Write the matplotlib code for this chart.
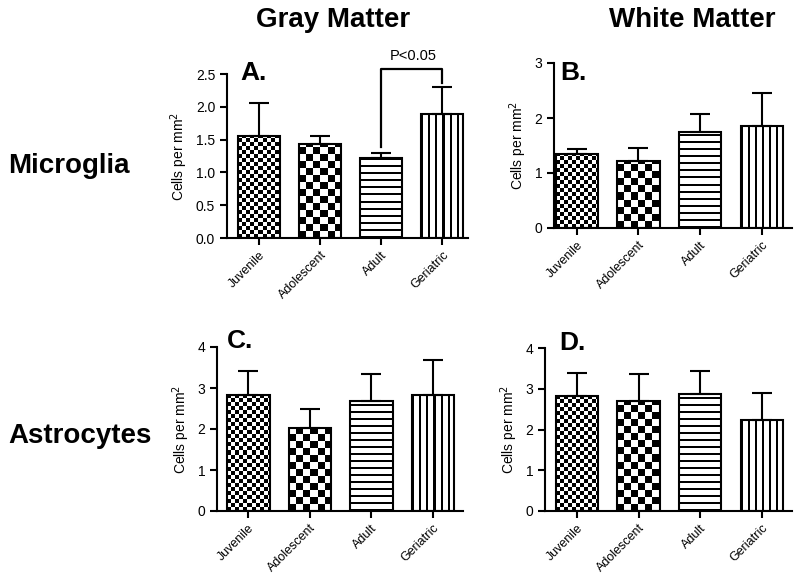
import numpy as np
import matplotlib
matplotlib.use("Agg")
import matplotlib.pyplot as plt

plt.rcParams['font.family'] = ['Liberation Sans', 'DejaVu Sans']

# Data
groups = ['Juvenile', 'Adolescent', 'Adult', 'Geriatric']
gm_microglia = [1.55, 1.43, 1.22, 1.89]
gm_microglia_err = [0.51, 0.12, 0.08, 0.41]
wm_microglia = [1.34, 1.22, 1.75, 1.86]
wm_microglia_err = [0.09, 0.24, 0.33, 0.59]
gm_astro = [2.84, 2.02, 2.68, 2.84]
gm_astro_err = [0.57, 0.46, 0.65, 0.85]
wm_astro = [2.81, 2.71, 2.87, 2.23]
wm_astro_err = [0.58, 0.65, 0.56, 0.67]
patterns = ['fine_check', 'check', 'hlines', 'vlines']

W, H = 800, 576
fig = plt.figure(figsize=(W / 100, H / 100), dpi=100)


def px_axes(left, right, top, bottom):
    return fig.add_axes([left / W, 1 - bottom / H, (right - left) / W, (bottom - top) / H])


def texture(kind, rows, cols):
    i, j = np.mgrid[0:rows, 0:cols]
    if kind == 'fine_check':
        return ((i // 4 + j // 4) % 2).astype(float)
    if kind == 'check':
        return ((i // 7 + j // 7) % 2).astype(float)
    if kind == 'hlines':
        return ((i % 7) >= 2).astype(float)
    return ((j % 7) >= 2).astype(float)


def panel(ax, vals, errs, ylim, yticks, fmt, xlim):
    x = np.arange(len(groups))
    w = 0.69
    ax.set_xlim(*xlim)
    ax.set_ylim(*ylim)
    bars = ax.bar(x, vals, w, color='white', edgecolor='none', zorder=1)
    fig.canvas.draw()
    for b, kind in zip(bars, patterns):
        x0, y0 = b.get_x(), b.get_y()
        x1, y1 = x0 + b.get_width(), y0 + b.get_height()
        p0 = ax.transData.transform((x0, y0))
        p1 = ax.transData.transform((x1, y1))
        cols = max(1, int(round(p1[0] - p0[0])))
        rows = max(1, int(round(p1[1] - p0[1])))
        ax.imshow(texture(kind, rows, cols), cmap='gray', vmin=0, vmax=1,
                  origin='lower', extent=(x0, x1, y0, y1), aspect='auto',
                  interpolation='nearest', zorder=2)
    ax.bar(x, vals, w, color='none', edgecolor='black', linewidth=1.5, zorder=3)
    ax.errorbar(x, vals, yerr=[np.zeros(len(vals)), errs], fmt='none',
                ecolor='black', elinewidth=1.5, capsize=7, capthick=1.5, zorder=4)
    ax.set_xlim(*xlim)
    ax.set_ylim(*ylim)
    ax.set_yticks(yticks)
    ax.set_yticklabels([fmt % t for t in yticks], fontsize=10)
    ax.set_xticks(x)
    ax.set_xticklabels(groups, rotation=45, ha='right', rotation_mode='anchor', fontsize=9)
    ax.spines['top'].set_visible(False)
    ax.spines['right'].set_visible(False)
    ax.spines['left'].set_linewidth(1.5)
    ax.spines['bottom'].set_linewidth(1.5)
    ax.tick_params(width=1.5, length=5)
    ax.tick_params(axis='x', pad=3)
    ax.set_ylabel('Cells per mm$^2$', fontsize=10)


axA = px_axes(227, 468, 74, 238)
panel(axA, gm_microglia, gm_microglia_err, (0, 2.5), [0, 0.5, 1.0, 1.5, 2.0, 2.5], '%.1f', (-0.525, 3.42))
axB = px_axes(554, 792, 63, 228)
panel(axB, wm_microglia, wm_microglia_err, (0, 3), [0, 1, 2, 3], '%d', (-0.37, 3.49))
axC = px_axes(217, 463, 347, 511)
panel(axC, gm_astro, gm_astro_err, (0, 4), [0, 1, 2, 3, 4], '%d', (-0.51, 3.49))
axD = px_axes(545, 792, 348, 511)
panel(axD, wm_astro, wm_astro_err, (0, 4), [0, 1, 2, 3, 4], '%d', (-0.52, 3.49))

# significance bracket in panel A
axA.plot([2, 2, 3, 3], [1.38, 2.58, 2.58, 2.36], color='black', lw=1.6, clip_on=False, zorder=5)
fig.text(413 / W, 1 - 60 / H, 'P<0.05', ha='center', va='baseline', fontsize=10.5)

# panel letters
for lab, px, py in [('A.', 240, 80), ('B.', 560, 80), ('C.', 227, 348), ('D.', 559, 350)]:
    fig.text(px / W, 1 - py / H, lab, fontsize=19, fontweight='bold', va='baseline')

# column / row headers
fig.text(333 / W, 1 - 27 / H, 'Gray Matter', fontsize=20, fontweight='bold', ha='center', va='baseline')
fig.text(692 / W, 1 - 27 / H, 'White Matter', fontsize=20, fontweight='bold', ha='center', va='baseline')
fig.text(8 / W, 1 - 173 / H, 'Microglia', fontsize=20, fontweight='bold', va='baseline')
fig.text(8 / W, 1 - 443 / H, 'Astrocytes', fontsize=20, fontweight='bold', va='baseline')

fig.savefig('out.png', dpi=100)
